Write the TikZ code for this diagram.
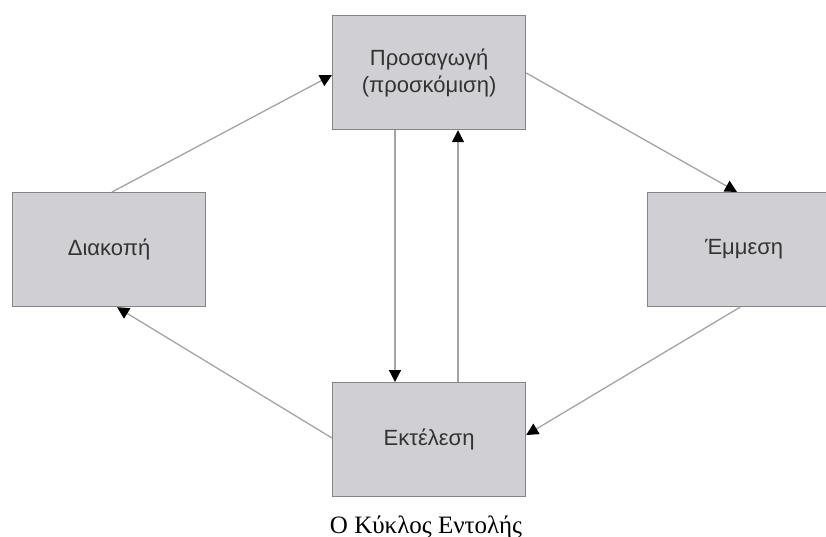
\documentclass[tikz,border=0pt]{standalone}
\usepackage{fontspec}
\setmainfont{Liberation Serif}
\newfontfamily\boxfont{Liberation Sans}
\usetikzlibrary{arrows.meta,calc}
\definecolor{boxfill}{HTML}{D0D0D4}
\definecolor{boxline}{HTML}{858585}
\definecolor{conn}{HTML}{A4A4A8}
\definecolor{txt}{HTML}{333333}
\begin{document}
\begin{tikzpicture}[x=1pt,y=-1pt,
  stagebox/.style={draw=boxline, fill=boxfill, line width=1.2pt,
    minimum width=193pt, minimum height=114pt, inner sep=0pt, anchor=north west,
    font=\boxfont\fontsize{22}{27}\selectfont, text=txt, align=center},
  flow/.style={draw=conn, line width=1.3pt, -{Triangle[length=12pt,width=12pt,color=black]}}]
\useasboundingbox (0,0) rectangle (826,537);
\fill[white] (0,0) rectangle (826,537);
\node[stagebox] (T) at (332,15) {Προσαγωγή\\(προσκόμιση)};
\node[stagebox] (L) at (12,192) {Διακοπή};
\node[stagebox] (R) at (647,192) {Έμμεση};
\node[stagebox] (B) at (332,382) {Εκτέλεση};
\node[font=\fontsize{25}{29}\selectfont, text=black, anchor=base] (C) at (426,533) {Ο Κύκλος Εντολής};
\draw[flow] ($(L.north west)+(100,0)$) -- ($(T.north west)+(0,60)$);
\draw[flow] ($(T.north east)+(0,58)$) -- ($(R.north west)+(90,0)$);
\draw[flow] ($(R.south west)+(93,0)$) -- ($(B.north east)+(0,53)$);
\draw[flow] ($(B.north west)+(0,56)$) -- ($(L.south west)+(105,0)$);
\draw[flow] ($(T.south west)+(63,0)$) -- ($(B.north west)+(63,0)$);
\draw[flow] ($(B.north west)+(126,0)$) -- ($(T.south west)+(126,0)$);
\end{tikzpicture}
\end{document}
